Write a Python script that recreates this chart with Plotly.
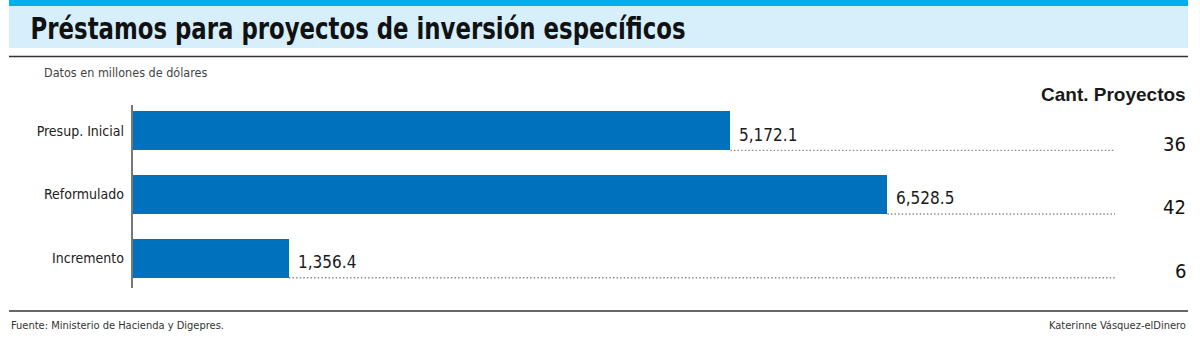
import plotly.graph_objects as go

categories = ["Presup. Inicial", "Reformulado", "Incremento"]
values = [5172.1, 6528.5, 1356.4]
proyectos = [36, 42, 6]

title = "Préstamos para proyectos de inversión específicos"
subtitle = "Datos en millones de dólares"
col_title = "Cant. Proyectos"
source = "Fuente: Ministerio de Hacienda y Digepres."
author = "Katerinne Vásquez-elDinero"

BAR_COLOR = "#0071bc"
XMAX = 8496
BAR_W = 0.614
COND = "Liberation Sans Narrow, DejaVu Sans Condensed, Arial Narrow, sans-serif"

idx = list(range(len(categories)))

fig = go.Figure()
fig.add_trace(go.Bar(
    x=values, y=idx, orientation="h", width=BAR_W,
    marker=dict(color=BAR_COLOR, line=dict(width=0)),
    hoverinfo="skip", showlegend=False,
))

# dotted leader lines from bar end
for i, v in zip(idx, values):
    fig.add_trace(go.Scatter(
        x=[v, XMAX], y=[i + BAR_W / 2, i + BAR_W / 2], mode="lines",
        line=dict(color="#888888", width=1.4, dash="1.4px,2.2px"),
        hoverinfo="skip", showlegend=False,
    ))

W, H = 1200, 357
L, R = 132, 1115
T, B = 99, 290


def px(xp):
    return (xp - L) / (R - L)


def py(yp):
    return (B - yp) / (B - T)


annotations = []
for i, v, p in zip(idx, values, proyectos):
    annotations.append(dict(
        x=v, y=i + 0.06, xref="x", yref="y", text=f"{v:,.1f}",
        showarrow=False, xanchor="left", yanchor="middle", xshift=7,
        font=dict(family=COND, size=17, color="#1a1a1a"),
    ))
    annotations.append(dict(
        x=px(1188), y=i + 0.2, xref="paper", yref="y", text=f"{p}",
        showarrow=False, xanchor="right", yanchor="middle",
        font=dict(family=COND, size=20, color="#111111"),
    ))

annotations += [
    dict(x=px(357.5), y=py(28), xref="paper", yref="paper", text=title,
         showarrow=False, xanchor="center", yanchor="middle",
         font=dict(family=COND, size=30, color="#111111", weight=900)),
    dict(x=px(42), y=py(72), xref="paper", yref="paper", text=subtitle,
         showarrow=False, xanchor="left", yanchor="middle",
         font=dict(family=COND, size=12.5, color="#444444")),
    dict(x=px(1188), y=py(94), xref="paper", yref="paper", text=col_title,
         showarrow=False, xanchor="right", yanchor="middle",
         font=dict(family="Liberation Sans, Arial, sans-serif", size=19,
                   color="#1a1a1a", weight=700)),
    dict(x=px(9), y=py(325), xref="paper", yref="paper", text=source,
         showarrow=False, xanchor="left", yanchor="middle",
         font=dict(family=COND, size=11, color="#333333")),
    dict(x=px(1188), y=py(325), xref="paper", yref="paper", text=author,
         showarrow=False, xanchor="right", yanchor="middle",
         font=dict(family=COND, size=11, color="#333333")),
]

shapes = [
    dict(type="rect", xref="paper", yref="paper", x0=px(9), x1=px(1188), y0=py(0), y1=py(6),
         fillcolor="#00aeef", line=dict(width=0), layer="below"),
    dict(type="rect", xref="paper", yref="paper", x0=px(9), x1=px(1188), y0=py(6), y1=py(48),
         fillcolor="#d6effb", line=dict(width=0), layer="below"),
    dict(type="line", xref="paper", yref="paper", x0=px(9), x1=px(1188), y0=py(56.5), y1=py(56.5),
         line=dict(color="#333333", width=1.5)),
    dict(type="line", xref="paper", yref="paper", x0=px(9), x1=px(1188), y0=py(311), y1=py(311),
         line=dict(color="#333333", width=1.5)),
    dict(type="line", xref="paper", yref="paper", x0=0, x1=0, y0=py(288), y1=py(105),
         line=dict(color="#777777", width=2)),
]

fig.update_layout(
    width=W, height=H,
    margin=dict(l=L, r=W - R, t=T, b=H - B, pad=0),
    paper_bgcolor="white", plot_bgcolor="white",
    xaxis=dict(range=[0, XMAX], visible=False, fixedrange=True),
    yaxis=dict(range=[2.5, -0.5], tickvals=idx, ticktext=categories,
               showgrid=False, zeroline=False, showline=False, ticks="",
               ticklabelstandoff=7,
               tickfont=dict(family=COND, size=14, color="#222222"), fixedrange=True),
    annotations=annotations, shapes=shapes,
    bargap=0,
)

post = """
document.body.style.margin = '0';
document.querySelectorAll('text.annotation-text').forEach(function (e) {
  if (e.textContent.indexOf('Préstamos') === 0) {
    e.setAttribute('textLength', '655');
    e.setAttribute('lengthAdjust', 'spacingAndGlyphs');
  }
});
"""

fig.write_html("out.html", config={"displayModeBar": False, "staticPlot": True},
               post_script=post)
